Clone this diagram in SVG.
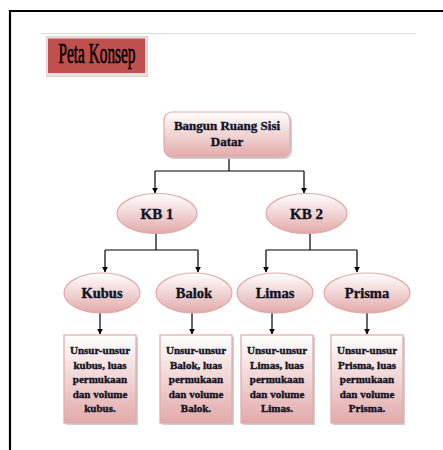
<svg xmlns="http://www.w3.org/2000/svg" width="443" height="450" viewBox="0 0 443 450">
<defs>
<linearGradient id="g" x1="0" y1="0" x2="0" y2="1">
<stop offset="0" stop-color="#ffffff"/>
<stop offset="1" stop-color="#e3aaaa"/>
</linearGradient>
<marker id="arr" viewBox="0 0 10 10" refX="9" refY="5" markerWidth="6" markerHeight="6" orient="auto" markerUnits="userSpaceOnUse">
<path d="M0,0 L10,5 L0,10 z" fill="#000"/>
</marker>
</defs>
<style>
.n{fill:url(#g);stroke:#e2a9a9;stroke-width:1.2}
.sh{fill:#d0d0d0}
.t{font-family:'Liberation Serif',serif;font-weight:bold;fill:#111122;stroke:#111122;stroke-width:0.35;text-anchor:middle}
.c{fill:none;stroke:#000;stroke-width:1.2}
.ca{fill:none;stroke:#000;stroke-width:1.2;marker-end:url(#arr)}
</style>
<rect x="0" y="0" width="443" height="450" fill="#fff"/>
<path d="M10,450 V11 H443" fill="none" stroke="#000" stroke-width="2.2"/>
<line x1="41" y1="33.5" x2="416" y2="33.5" stroke="#dcdcdc" stroke-width="1"/>
<g id="title">
<rect x="46.5" y="36.5" width="101" height="40" fill="#eadede" stroke="#e0d0d0"/>
<rect x="48" y="38.5" width="97" height="34.5" fill="#c0504d"/>
<text x="97" y="62.5" style="font-family:'Liberation Serif',serif;font-size:29px;fill:#000;stroke:#000;stroke-width:0.7" text-anchor="middle" textLength="77" lengthAdjust="spacingAndGlyphs">Peta Konsep</text>
</g>
<g id="connectors">
<path class="c" d="M229,157 V171 M155,171 H304"/>
<path class="ca" d="M155,171 V193"/>
<path class="ca" d="M304,171 V193"/>
<path class="c" d="M156,233 V250 M105,250 H198"/>
<path class="ca" d="M105,250 V272"/>
<path class="ca" d="M198,250 V272"/>
<path class="c" d="M310,233 V250 M266,250 H357"/>
<path class="ca" d="M266,250 V272"/>
<path class="ca" d="M357,250 V272"/>
<path class="ca" d="M100,313 V334"/>
<path class="ca" d="M192,313 V334"/>
<path class="ca" d="M272,313 V334"/>
<path class="ca" d="M367,313 V334"/>
</g>
<g id="root">
<rect class="sh" x="166" y="114" width="126" height="45" rx="8"/>
<rect class="n" x="164" y="112" width="126" height="45" rx="8"/>
<text class="t" x="227" y="130" font-size="13">Bangun Ruang Sisi</text>
<text class="t" x="227" y="146" font-size="13">Datar</text>
</g>
<g id="kb1">
<ellipse class="n" cx="157" cy="213.5" rx="40" ry="20"/>
<text class="t" x="157" y="219" font-size="15">KB 1</text>
</g>
<g id="kb2">
<ellipse class="n" cx="306.5" cy="213.5" rx="40.5" ry="20"/>
<text class="t" x="306.5" y="219" font-size="15">KB 2</text>
</g>
<g id="kubus">
<ellipse class="n" cx="102" cy="293" rx="38" ry="20"/>
<text class="t" x="102" y="298" font-size="14.5">Kubus</text>
</g>
<g id="balok">
<ellipse class="n" cx="194" cy="293" rx="38" ry="20"/>
<text class="t" x="194" y="298" font-size="14.5">Balok</text>
</g>
<g id="limas">
<ellipse class="n" cx="275" cy="293" rx="38" ry="20"/>
<text class="t" x="275" y="298" font-size="14.5">Limas</text>
</g>
<g id="prisma">
<ellipse class="n" cx="367" cy="293" rx="43" ry="20"/>
<text class="t" x="367" y="298" font-size="14.5">Prisma</text>
</g>
<g id="d-kubus">
<rect class="sh" x="66" y="337" width="72" height="88"/>
<rect class="n" x="64" y="335" width="72" height="88"/>
<text class="t" font-size="11"><tspan x="100" y="354">Unsur-unsur</tspan><tspan x="100" y="368.5">kubus, luas</tspan><tspan x="100" y="383">permukaan</tspan><tspan x="100" y="397.5">dan volume</tspan><tspan x="100" y="412">kubus.</tspan></text>
</g>
<g id="d-balok">
<rect class="sh" x="162" y="337" width="72" height="88"/>
<rect class="n" x="160" y="335" width="72" height="88"/>
<text class="t" font-size="11"><tspan x="196" y="354">Unsur-unsur</tspan><tspan x="196" y="368.5">Balok, luas</tspan><tspan x="196" y="383">permukaan</tspan><tspan x="196" y="397.5">dan volume</tspan><tspan x="196" y="412">Balok.</tspan></text>
</g>
<g id="d-limas">
<rect class="sh" x="243" y="337" width="72" height="88"/>
<rect class="n" x="241" y="335" width="72" height="88"/>
<text class="t" font-size="11"><tspan x="277" y="354">Unsur-unsur</tspan><tspan x="277" y="368.5">Limas, luas</tspan><tspan x="277" y="383">permukaan</tspan><tspan x="277" y="397.5">dan volume</tspan><tspan x="277" y="412">Limas.</tspan></text>
</g>
<g id="d-prisma">
<rect class="sh" x="333" y="337" width="72" height="88"/>
<rect class="n" x="331" y="335" width="72" height="88"/>
<text class="t" font-size="11"><tspan x="367" y="354">Unsur-unsur</tspan><tspan x="367" y="368.5">Prisma, luas</tspan><tspan x="367" y="383">permukaan</tspan><tspan x="367" y="397.5">dan volume</tspan><tspan x="367" y="412">Prisma.</tspan></text>
</g>
</svg>
